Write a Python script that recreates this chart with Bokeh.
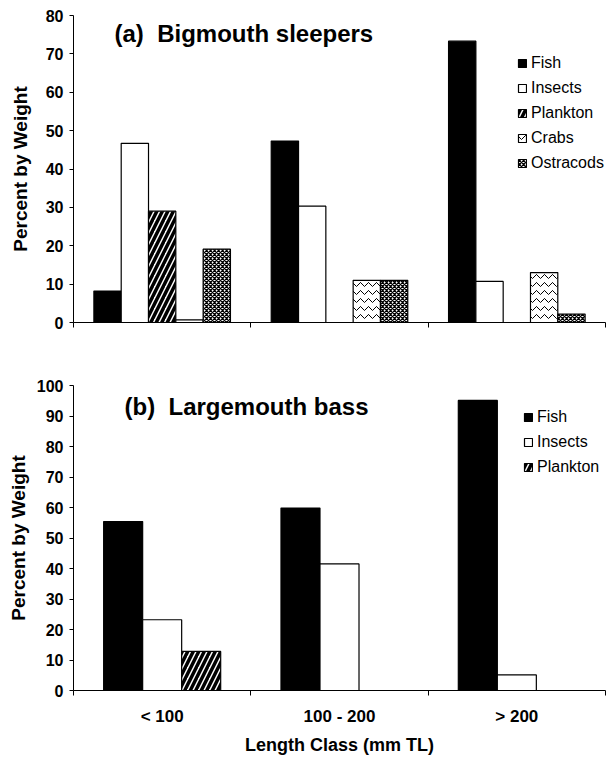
from bokeh.plotting import figure
from bokeh.models import Range1d, FixedTicker, Legend, LegendItem, Label, ColumnDataSource
from bokeh.layouts import column
from bokeh.embed import file_html
from bokeh.resources import INLINE

# ---- data ----
classes = ["< 100", "100 - 200", "> 200"]

a_series = ["Fish", "Insects", "Plankton", "Crabs", "Ostracods"]
a_fish = [8.2, 47.3, 73.3]
a_insects = [46.7, 30.3, 10.7]
a_plankton = [29.0, 0.0, 0.0]
a_crabs = [0.7, 11.0, 13.0]
a_ostracods = [19.1, 11.0, 2.2]
a_yticks = [0, 10, 20, 30, 40, 50, 60, 70, 80]

b_series = ["Fish", "Insects", "Plankton"]
b_fish = [55.4, 59.8, 95.1]
b_insects = [23.2, 41.5, 5.1]
b_plankton = [12.8, 0.0, 0.0]
b_yticks = [0, 10, 20, 30, 40, 50, 60, 70, 80, 90, 100]

FONT = "Liberation Sans"

styles = {
    "Fish": dict(fill_color="black"),
    "Insects": dict(fill_color="white"),
    "Plankton": dict(fill_color="white", hatch_pattern="/", hatch_color="black",
                     hatch_scale=11, hatch_weight=3.5),
    "Crabs": dict(fill_color="white", hatch_pattern="v", hatch_color="black",
                  hatch_scale=8, hatch_weight=1),
    "Ostracods": dict(fill_color="white", hatch_pattern="x", hatch_color="black",
                      hatch_scale=4, hatch_weight=1.3),
}


def make_panel(names, values, yticks, bw, height, mb_top, mb_bottom, mb_right,
               title, title_xy, legend_xy, show_x_labels, ylab_standoff):
    n_cat = len(classes)
    p = figure(width=614, height=height, output_backend="svg", toolbar_location=None,
               x_range=Range1d(-0.5, n_cat - 0.5), y_range=Range1d(yticks[0], yticks[-1]),
               min_border_left=73, min_border_right=mb_right,
               min_border_top=mb_top, min_border_bottom=mb_bottom)
    p.outline_line_color = None
    p.grid.visible = False
    p.background_fill_color = "white"
    p.border_fill_color = "white"

    n = len(names)
    items = []
    for j, (name, vals) in enumerate(zip(names, values)):
        xs = [i + (j - (n - 1) / 2) * bw for i in range(n_cat)]
        src = ColumnDataSource(dict(x=xs, top=vals))
        r = p.vbar(x="x", top="top", bottom=0, width=bw, source=src,
                   line_color="black", line_width=1.2, **styles[name])
        items.append(LegendItem(label=name, renderers=[r]))

    legend = Legend(items=items, location=legend_xy, padding=0, margin=0,
                    spacing=3, label_height=22, glyph_width=10, glyph_height=10,
                    label_standoff=4, border_line_color=None,
                    background_fill_alpha=0, label_text_font=FONT,
                    label_text_font_size="16px", label_text_color="black")
    p.add_layout(legend, "center")

    # y axis
    ya = p.yaxis[0]
    ya.ticker = FixedTicker(ticks=yticks)
    ya.major_tick_out = 4
    ya.major_tick_in = 0
    ya.minor_tick_out = 0
    ya.minor_tick_in = 0
    ya.axis_line_color = "black"
    ya.major_tick_line_color = "black"
    ya.major_label_text_font = FONT
    ya.major_label_text_font_style = "bold"
    ya.major_label_text_font_size = "16px"
    ya.major_label_text_color = "black"
    ya.major_label_standoff = 6
    ya.axis_label = "Percent by Weight"
    ya.axis_label_text_font = FONT
    ya.axis_label_text_font_style = "bold"
    ya.axis_label_text_font_size = "19px"
    ya.axis_label_text_color = "black"
    ya.axis_label_standoff = ylab_standoff

    # x axis: boundary ticks as minor ticks, class labels at centres
    xa = p.xaxis[0]
    bounds = [i - 0.5 for i in range(n_cat + 1)]
    centres = list(range(n_cat))
    xa.axis_line_color = "black"
    xa.major_tick_line_color = None
    xa.major_tick_out = 0
    xa.major_tick_in = 0
    xa.minor_tick_out = 5
    xa.minor_tick_in = 0
    xa.minor_tick_line_color = "black"
    if show_x_labels:
        xa.ticker = FixedTicker(ticks=centres, minor_ticks=bounds)
        xa.major_label_overrides = {i: c for i, c in enumerate(classes)}
        xa.major_label_text_font = FONT
        xa.major_label_text_font_style = "bold"
        xa.major_label_text_font_size = "17px"
        xa.major_label_text_color = "black"
        xa.major_label_standoff = 11
        xa.axis_label = "Length Class (mm TL)"
        xa.axis_label_text_font = FONT
        xa.axis_label_text_font_style = "bold"
        xa.axis_label_text_font_size = "18px"
        xa.axis_label_text_color = "black"
        xa.axis_label_standoff = 6
    else:
        xa.ticker = FixedTicker(ticks=[], minor_ticks=bounds)
        xa.major_label_text_font_size = "0px"

    p.add_layout(Label(x=title_xy[0], y=title_xy[1], x_units="screen", y_units="screen",
                       text=title, text_font=FONT, text_font_style="bold",
                       text_font_size="24px", text_color="black", text_baseline="top"))
    return p


pa = make_panel(a_series, [a_fish, a_insects, a_plankton, a_crabs, a_ostracods],
                a_yticks, 0.154, 348, 15, 26, 5,
                "(a)\u00a0 Bigmouth sleepers", (41, 303), (444, 148), False, 12)
pb = make_panel(b_series, [b_fish, b_insects, b_plankton],
                b_yticks, 0.22, 410, 37, 68, 9,
                "(b)\u00a0 Largemouth bass", (51, 298), (450, 212), True, 5)

layout = column(pa, pb, spacing=0)
open("out.html", "w").write(file_html(layout, INLINE))
